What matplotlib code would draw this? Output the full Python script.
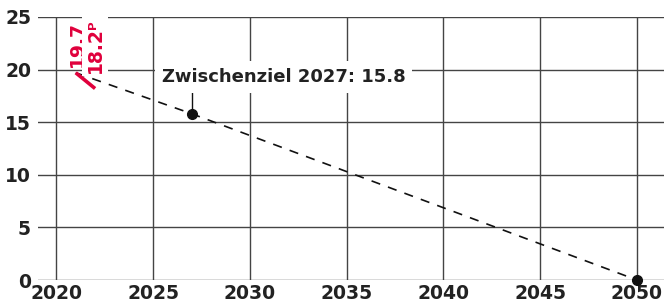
import numpy as np
import matplotlib
matplotlib.use("Agg")
import matplotlib.pyplot as plt

plt.rcParams['font.family'] = ['DejaVu Sans']

# Data
actual_years = [2021, 2022]
actual_values = [19.7, 18.2]
actual_labels = ["19.7", "18.2ᴾ"]
path_years = [2021, 2027, 2050]
path_values = [19.7, 15.8, 0.0]
goal_years = [2027, 2050]
goal_values = [15.8, 0.0]
goal_text = "Zwischenziel 2027: 15.8"
x_ticks = [2020, 2025, 2030, 2035, 2040, 2045, 2050]
y_ticks = [0, 5, 10, 15, 20, 25]

red = "#e0003c"
grid_c = "#444444"

fig = plt.figure(figsize=(6.64, 3.07), dpi=100)
ax = fig.add_axes([38 / 664, 27 / 307, 1 - 38 / 664, (280 - 17) / 307])
ax.set_xlim(2019.05, 2051.4)
ax.set_ylim(0, 25)

# grid
for y in y_ticks:
    ax.axhline(y, color=grid_c, lw=1.0, zorder=1)
for x in x_ticks:
    ax.plot([x, x], [0, 25], color=grid_c, lw=1.0, zorder=1)

for s in ax.spines.values():
    s.set_visible(False)
ax.set_xticks(x_ticks)
ax.set_yticks(y_ticks)
ax.tick_params(length=0, labelsize=13.5, colors="#222222")
ax.tick_params(axis="x", pad=3)
ax.tick_params(axis="y", pad=5)
for lab in ax.get_xticklabels() + ax.get_yticklabels():
    lab.set_fontweight("bold")

# target path
ax.plot(path_years, path_values, color="#111111", lw=1.2,
        dashes=(5.5, 5), zorder=3)
ax.plot(goal_years, goal_values, "o", color="#111111", ms=7, zorder=5,
        clip_on=False)

# actual values
ax.plot(actual_years, actual_values, color=red, lw=2.6,
        solid_capstyle="butt", zorder=4)
ax.text(actual_years[0] + 0.1, 20.25, actual_labels[0], rotation=90,
        ha="center", va="bottom", color=red, fontsize=13.5,
        fontweight="bold", zorder=6)
ax.text(actual_years[1], 19.7, actual_labels[1], rotation=90,
        ha="center", va="bottom", color=red, fontsize=13.5,
        fontweight="bold", zorder=6,
        bbox=dict(facecolor="white", edgecolor="none", pad=2.5))

# annotation
ax.plot([goal_years[0], goal_years[0]], [goal_values[0], 17.9],
        color="#111111", lw=1.0, zorder=4)
ax.text(2025.45, 19.3, goal_text, ha="left", va="center",
        fontsize=13, fontweight="bold", color="#222222", zorder=6,
        bbox=dict(facecolor="white", edgecolor="none", pad=5))

fig.savefig("out.png", dpi=100)
